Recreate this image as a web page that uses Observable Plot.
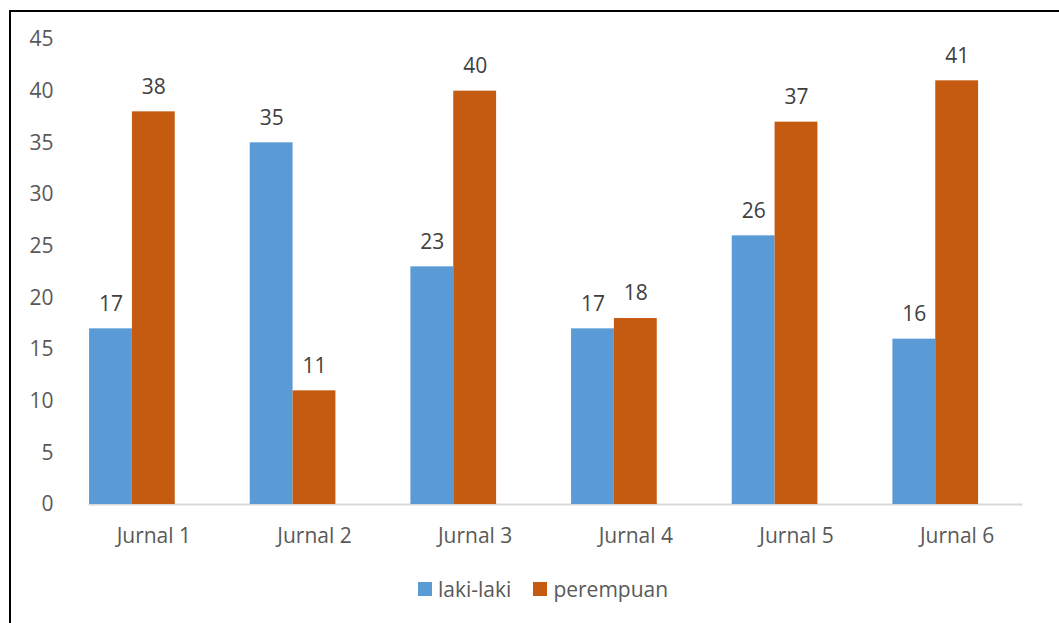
<!DOCTYPE html>
<html>
<head>
<meta charset="utf-8">
<script src="https://cdn.jsdelivr.net/npm/d3@7"></script>
<script src="https://cdn.jsdelivr.net/npm/@observablehq/plot@0.6"></script>
<style>
  html, body { margin: 0; padding: 0; background: #fff; overflow: hidden; }
  #frame { position: absolute; left: 9px; top: 10px; width: 1200px; height: 800px; border: 2px solid #000; box-sizing: border-box; }
  #chart { position: absolute; left: 0; top: 0; }
  #legend { position: absolute; left: 418px; top: 575px; display: flex; align-items: center; font-family: "Open Sans", sans-serif; font-size: 21px; color: #595959; }
  .item { display: flex; align-items: center; margin-right: 22px; }
  .sw { width: 14px; height: 14px; margin-right: 6px; }
</style>
</head>
<body>
<div id="frame"></div>
<div id="chart"></div>
<div id="legend"></div>
<script>
const categories = ["Jurnal 1", "Jurnal 2", "Jurnal 3", "Jurnal 4", "Jurnal 5", "Jurnal 6"];
const series = ["laki-laki", "perempuan"];
const lakiLaki = [17, 35, 23, 17, 26, 16];
const perempuan = [38, 11, 40, 18, 37, 41];
const colors = ["#5B9BD5", "#C55A11"];
const yTicks = [0, 5, 10, 15, 20, 25, 30, 35, 40, 45];

const data = categories.flatMap((c, i) => [
  {cat: c, s: series[0], v: lakiLaki[i]},
  {cat: c, s: series[1], v: perempuan[i]}
]);

const chart = Plot.plot({
  width: 1059,
  height: 560,
  marginTop: 39,
  marginBottom: 56,
  marginLeft: 73,
  marginRight: 22,
  style: {fontFamily: "Open Sans, sans-serif", fontSize: "21px", color: "#595959", background: "transparent"},
  fx: {domain: categories, paddingInner: 0.2, paddingOuter: 0.1, round: false, label: null},
  x: {domain: [...series, "__empty"], padding: 0, round: false, axis: null},
  y: {domain: [0, 45], label: null},
  color: {domain: series, range: colors},
  marks: [
    Plot.frame({anchor: "bottom", facet: "super", stroke: "#D9D9D9", strokeWidth: 2}),
    Plot.axisY({ticks: yTicks, tickSize: 0, tickPadding: 23, dx: -13, fontSize: 21, fill: "#595959", label: null}),
    Plot.axisFx({anchor: "bottom", tickSize: 0, tickPadding: 17, dy: 7, fontSize: 21, fill: "#595959", label: null}),
    Plot.barY(data, {fx: "cat", x: "s", y: "v", fill: "s"}),
    Plot.text(data, {fx: "cat", x: "s", y: "v", text: d => String(d.v), dy: -25, fill: "#404040", fontSize: 21})
  ]
});
document.getElementById("chart").appendChild(chart);

const legend = document.getElementById("legend");
series.forEach((s, i) => {
  const item = document.createElement("div");
  item.className = "item";
  const sw = document.createElement("div");
  sw.className = "sw";
  sw.style.background = colors[i];
  const t = document.createElement("span");
  t.textContent = s;
  item.appendChild(sw);
  item.appendChild(t);
  legend.appendChild(item);
});
</script>
</body>
</html>
